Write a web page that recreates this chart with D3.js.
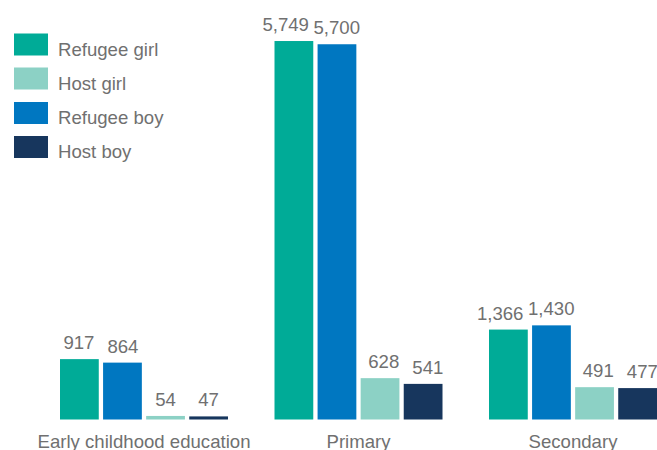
<!DOCTYPE html>
<html><head><meta charset="utf-8">
<script src="https://cdn.jsdelivr.net/npm/d3@7"></script>
<style>body{margin:0;background:#fff}svg{display:block}</style>
</head><body>
<svg id="c" width="657" height="450"></svg>
<script>
const categories = ["Early childhood education", "Primary", "Secondary"];
const seriesNames = ["Refugee girl", "Refugee boy", "Host girl", "Host boy"];
const legendOrder = ["Refugee girl", "Host girl", "Refugee boy", "Host boy"];
const refugeeGirl = [917, 5749, 1366];
const refugeeBoy = [864, 5700, 1430];
const hostGirl = [54, 628, 491];
const hostBoy = [47, 541, 477];
const colors = {"Refugee girl":"#00ab97","Refugee boy":"#0077c1","Host girl":"#8cd1c5","Host boy":"#17365d"};

const values = {"Refugee girl":refugeeGirl,"Refugee boy":refugeeBoy,"Host girl":hostGirl,"Host boy":hostBoy};
const svg = d3.select("#c");
const textColor = "#707070";
const font = "'Liberation Sans', Arial, sans-serif";
const fs = 18.6;

const x0 = d3.scaleBand().domain(categories).range([60, 657]).paddingInner(0.2168).paddingOuter(0);
const x1 = d3.scaleBand().domain(seriesNames).range([0, x0.bandwidth()]).padding(0.1).paddingOuter(0);
const y = d3.scaleLinear().domain([0, 6000]).range([419.5, 24.5]);

const g = svg.append("g");
categories.forEach((cat, i) => {
  const gg = g.append("g").attr("transform", `translate(${x0(cat)},0)`);
  const labels = [];
  seriesNames.forEach(s => {
    const v = values[s][i];
    gg.append("rect").attr("x", x1(s)).attr("width", x1.bandwidth())
      .attr("y", y(v)).attr("height", y(0) - y(v)).attr("fill", colors[s]);
    const t = gg.append("text").attr("x", x1(s) + x1.bandwidth()/2).attr("y", y(v) - 10)
      .attr("text-anchor", "middle").attr("font-family", font).attr("font-size", fs)
      .attr("fill", textColor).text(d3.format(",")(v));
    labels.push({t, cx: x1(s) + x1.bandwidth()/2, w: t.node().getComputedTextLength()});
  });
  // push apart adjacent labels that would collide
  for (let k = 0; k < labels.length - 1; k++) {
    const a = labels[k], b = labels[k+1];
    const gap = (b.cx - b.w/2) - (a.cx + a.w/2);
    const minGap = 13;
    if (gap < minGap) {
      const d = (minGap - gap) / 2;
      a.cx -= d; b.cx += d;
    }
  }
  labels.forEach(l => l.t.attr("x", l.cx));
});

const xAxis = d3.axisBottom(x0).tickSize(0).tickPadding(0);
const ax = svg.append("g").attr("transform", "translate(0,419.5)").call(xAxis);
ax.select(".domain").remove();
ax.selectAll("text").attr("font-family", font).attr("font-size", fs).attr("fill", textColor)
  .attr("dy", null).attr("y", 28.5);

const legendY = [33.5, 67.5, 102, 136];
const leg = svg.append("g");
legendOrder.forEach((s, i) => {
  leg.append("rect").attr("x", 14).attr("y", legendY[i]).attr("width", 34).attr("height", 22).attr("fill", colors[s]);
  leg.append("text").attr("x", 58).attr("y", legendY[i] + 22).attr("font-family", font).attr("font-size", fs)
    .attr("fill", textColor).text(s);
});
</script>
</body></html>
